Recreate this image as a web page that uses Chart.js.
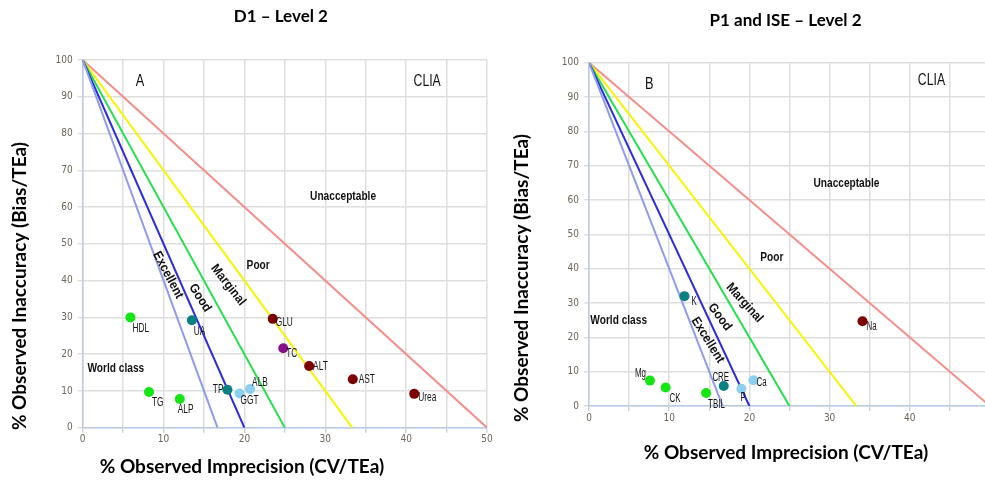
<!DOCTYPE html>
<html>
<head>
<meta charset="utf-8">
<script src="https://cdn.jsdelivr.net/npm/chart.js@4/dist/chart.umd.min.js"></script>
<style>
html,body{margin:0;padding:0;background:#fff;overflow:hidden;width:985px;height:481px;}
.wrap{position:absolute;top:0;height:481px;}
</style>
</head>
<body>
<div class="wrap" style="left:0;width:495px;"><canvas id="ca"></canvas></div>
<div class="wrap" style="left:495px;width:505px;"><canvas id="cb"></canvas></div>
<script>
// ---- Data ----
// Sigma decision lines: each runs from (0, lineTop) down to (intercept, 0)
const lineTop = 100;
const sigmaIntercepts = [16.67, 20, 25, 33.33, 50];

// Panel A: D1 – Level 2
const namesA = ['HDL','UA','GLU','TC','ALT','AST','Urea','TG','ALP','TP','GGT','ALB'];
const cvA    = [5.9, 13.5, 23.5, 24.8, 28.0, 33.4, 41.0, 8.2, 12.0, 17.9, 19.4, 20.7];
const biasA  = [30.0, 29.2, 29.6, 21.6, 16.8, 13.2, 9.2, 9.7, 7.8, 10.3, 9.3, 10.5];

// Panel B: P1 and ISE – Level 2
const namesB = ['K','Na','Mg','CK','TBIL','CRE','P','Ca'];
const cvB    = [11.9, 34.1, 7.6, 9.55, 14.6, 16.8, 19.0, 20.5];
const biasB  = [32.0, 24.7, 7.4, 5.4, 3.8, 5.8, 5.0, 7.5];

// x tick labels every 10, grid every 5; y every 10
const xTickStep = 5, xLabelStep = 10, yTickStep = 10;

// ---- Styles ----
const lineColors = ['#8f9cec','#2b2be0','#25e04c','#f8f400','#f58e88'];
const C = {green:'#14e614', teal:'#0b8080', red:'#7d0000', purple:'#86128a', sky:'#8ccfee'};
const colorsA = [C.green,C.teal,C.red,C.purple,C.red,C.red,C.red,C.green,C.green,C.teal,C.sky,C.sky];
const colorsB = [C.teal,C.red,C.green,C.green,C.green,C.teal,C.sky,C.sky];
// label placement relative to point (px): [dx, dy, align]
const labOffA = [[2,11,'left'],[2,11,'left'],[3,4,'left'],[3,5,'left'],[4,0,'left'],[6,0,'left'],[4,4,'left'],[3,10,'left'],[-2,10,'left'],[-4,0,'right'],[1,7,'left'],[2,-7,'left']];
const labOffB = [[7,6,'left'],[4,5,'left'],[-4,-7,'right'],[4,11,'left'],[2,12,'left'],[-3,-8,'center'],[-1,9,'left'],[3,2,'left']];

const SANS = '"Liberation Sans", Arial, sans-serif';
const COND = '"DejaVu Sans Condensed", "Liberation Sans", sans-serif';
const BOLDT = 'Lato, "Open Sans", sans-serif';

// region annotations (data coords): text, x, y, angle(deg), font, horizontal squeeze
const regionsA = [
  ['A', 7.1, 94.3, 0, '17px '+SANS, 0.75],
  ['CLIA', 42.6, 94.3, 0, '17px '+SANS, 0.72],
  ['Unacceptable', 32.2, 63.0, 0, 'bold 13px '+SANS, 0.78],
  ['Poor', 21.7, 44.0, 0, 'bold 13px '+SANS, 0.78],
  ['Excellent', 10.55, 41.5, 62, 'bold 13px '+SANS, 0.9],
  ['Good', 14.5, 35.3, 57, 'bold 13px '+SANS, 0.9],
  ['Marginal', 18.0, 38.8, 52, 'bold 13px '+SANS, 0.9],
  ['World class', 4.1, 16.2, 0, 'bold 13px '+SANS, 0.78]
];
const regionsB = [
  ['B', 7.5, 93.8, 0, '17px '+SANS, 0.75],
  ['CLIA', 42.7, 95.0, 0, '17px '+SANS, 0.72],
  ['Unacceptable', 32.1, 64.7, 0, 'bold 13px '+SANS, 0.78],
  ['Poor', 22.8, 43.4, 0, 'bold 13px '+SANS, 0.78],
  ['Excellent', 14.8, 19.2, 58, 'bold 13px '+SANS, 0.9],
  ['Good', 16.3, 25.9, 53, 'bold 13px '+SANS, 0.9],
  ['Marginal', 19.4, 30.0, 48, 'bold 13px '+SANS, 0.9],
  ['World class', 3.7, 24.8, 0, 'bold 13px '+SANS, 0.78]
];

function squeezedText(ctx, text, x, y, sx) {
  ctx.save();
  ctx.translate(x, y);
  ctx.scale(sx, 1);
  ctx.fillText(text, 0, 0);
  ctx.restore();
}

const textPlugin = {
  id: 'panelText',
  afterDatasetsDraw(chart, args, o) {
    const ctx = chart.ctx, xs = chart.scales.x, ys = chart.scales.y;
    ctx.save();
    o.regions.forEach(r => {
      ctx.save();
      ctx.translate(xs.getPixelForValue(r[1]), ys.getPixelForValue(r[2]));
      ctx.rotate(r[3] * Math.PI / 180);
      ctx.font = r[4]; ctx.fillStyle = '#111';
      ctx.textAlign = 'center'; ctx.textBaseline = 'middle';
      squeezedText(ctx, r[0], 0, 0, r[5]);
      ctx.restore();
    });
    const meta = chart.getDatasetMeta(0);
    ctx.font = o.labelFont; ctx.fillStyle = '#151515'; ctx.textBaseline = 'middle';
    meta.data.forEach((pt, i) => {
      const off = o.offsets[i];
      ctx.textAlign = off[2];
      squeezedText(ctx, o.names[i], pt.x + off[0], pt.y + off[1], o.labelSqueeze);
    });
    ctx.restore();
  },
  afterDraw(chart, args, o) {
    const ctx = chart.ctx, ca = chart.chartArea;
    ctx.save();
    ctx.fillStyle = '#000'; ctx.textAlign = 'center'; ctx.textBaseline = 'middle';
    ctx.font = 'bold 17px ' + BOLDT;
    ctx.fillText(o.title, (ca.left + ca.right) / 2 + o.titleDx, o.titleY);
    ctx.font = 'bold 19px ' + BOLDT;
    ctx.fillText('% Observed Imprecision (CV/TEa)', o.xtX, o.xtY);
    ctx.translate(o.ytX, o.ytY);
    ctx.rotate(-Math.PI / 2);
    ctx.fillText('% Observed Inaccuracy (Bias/TEa)', 0, 0);
    ctx.restore();
  }
};

function makeChart(id, names, cv, bias, colors, offsets, regions, geom) {
  const datasets = [{
    type: 'scatter',
    data: cv.map((v, i) => ({x: v, y: bias[i]})),
    backgroundColor: colors, borderWidth: 0, pointRadius: 5, pointHoverRadius: 5
  }];
  sigmaIntercepts.forEach((xi, i) => datasets.push({
    type: 'scatter', showLine: true,
    data: [{x: 0, y: lineTop}, {x: xi, y: 0}],
    borderColor: lineColors[i], borderWidth: 2, pointRadius: 0, fill: false
  }));
  return new Chart(document.getElementById(id), {
    type: 'scatter',
    data: {datasets},
    plugins: [textPlugin],
    options: {
      responsive: true, maintainAspectRatio: false, animation: false,
      events: [],
      layout: {padding: {top: geom.top, right: geom.right, bottom: 0, left: 0}},
      plugins: {
        legend: {display: false}, tooltip: {enabled: false}, title: {display: false},
        panelText: {names, offsets, regions, title: geom.title, titleY: geom.titleY, titleDx: geom.titleDx,
          labelFont: geom.labelFont, labelSqueeze: geom.labelSqueeze,
          xtX: geom.xtX, xtY: geom.xtY, ytX: geom.ytX, ytY: geom.ytY}
      },
      scales: {
        x: {
          type: 'linear', min: 0, max: 50,
          ticks: {stepSize: xTickStep, autoSkip: false, maxRotation: 0, padding: 1,
            color: '#6e6459', font: {family: COND, size: 10},
            callback: v => (v % xLabelStep === 0 && v <= geom.xLabelMax ? v : '')},
          grid: {color: '#dedede', lineWidth: 1.5, tickLength: 5, tickColor: '#b9cbe6', tickWidth: 1.2},
          border: {color: '#b9cbe6', width: 1.5},
          afterFit: s => { s.height = geom.xh; s.paddingLeft = 0; s.paddingRight = 0; }
        },
        y: {
          type: 'linear', min: 0, max: 100,
          ticks: {stepSize: yTickStep, padding: 5, color: '#6e6459', font: {family: COND, size: 10}},
          grid: {color: '#dedede', lineWidth: 1.5, tickLength: 5, tickColor: '#dedede'},
          border: {color: '#b9cbe6', width: 1.5},
          afterFit: s => { s.width = geom.yw; s.paddingTop = 0; s.paddingBottom = 0; }
        }
      }
    }
  });
}

makeChart('ca', namesA, cvA, biasA, colorsA, labOffA, regionsA, {
  top: 60, right: 8, xh: 53.3, yw: 82.7, xLabelMax: 50,
  title: 'D1 – Level 2', titleY: 17, titleDx: -4, labelFont: '13px ' + SANS, labelSqueeze: 0.64,
  xtX: 242, xtY: 467, ytX: 20, ytY: 286
});
makeChart('cb', namesB, cvB, biasB, colorsB, labOffB, regionsB, {
  top: 62.7, right: 10, xh: 75, yw: 94, xLabelMax: 40,
  title: 'P1 and ISE – Level 2', titleY: 21, titleDx: -4, labelFont: '12px ' + SANS, labelSqueeze: 0.66,
  xtX: 786 - 495, xtY: 453, ytX: 522 - 495, ytY: 278
});
</script>
</body>
</html>
